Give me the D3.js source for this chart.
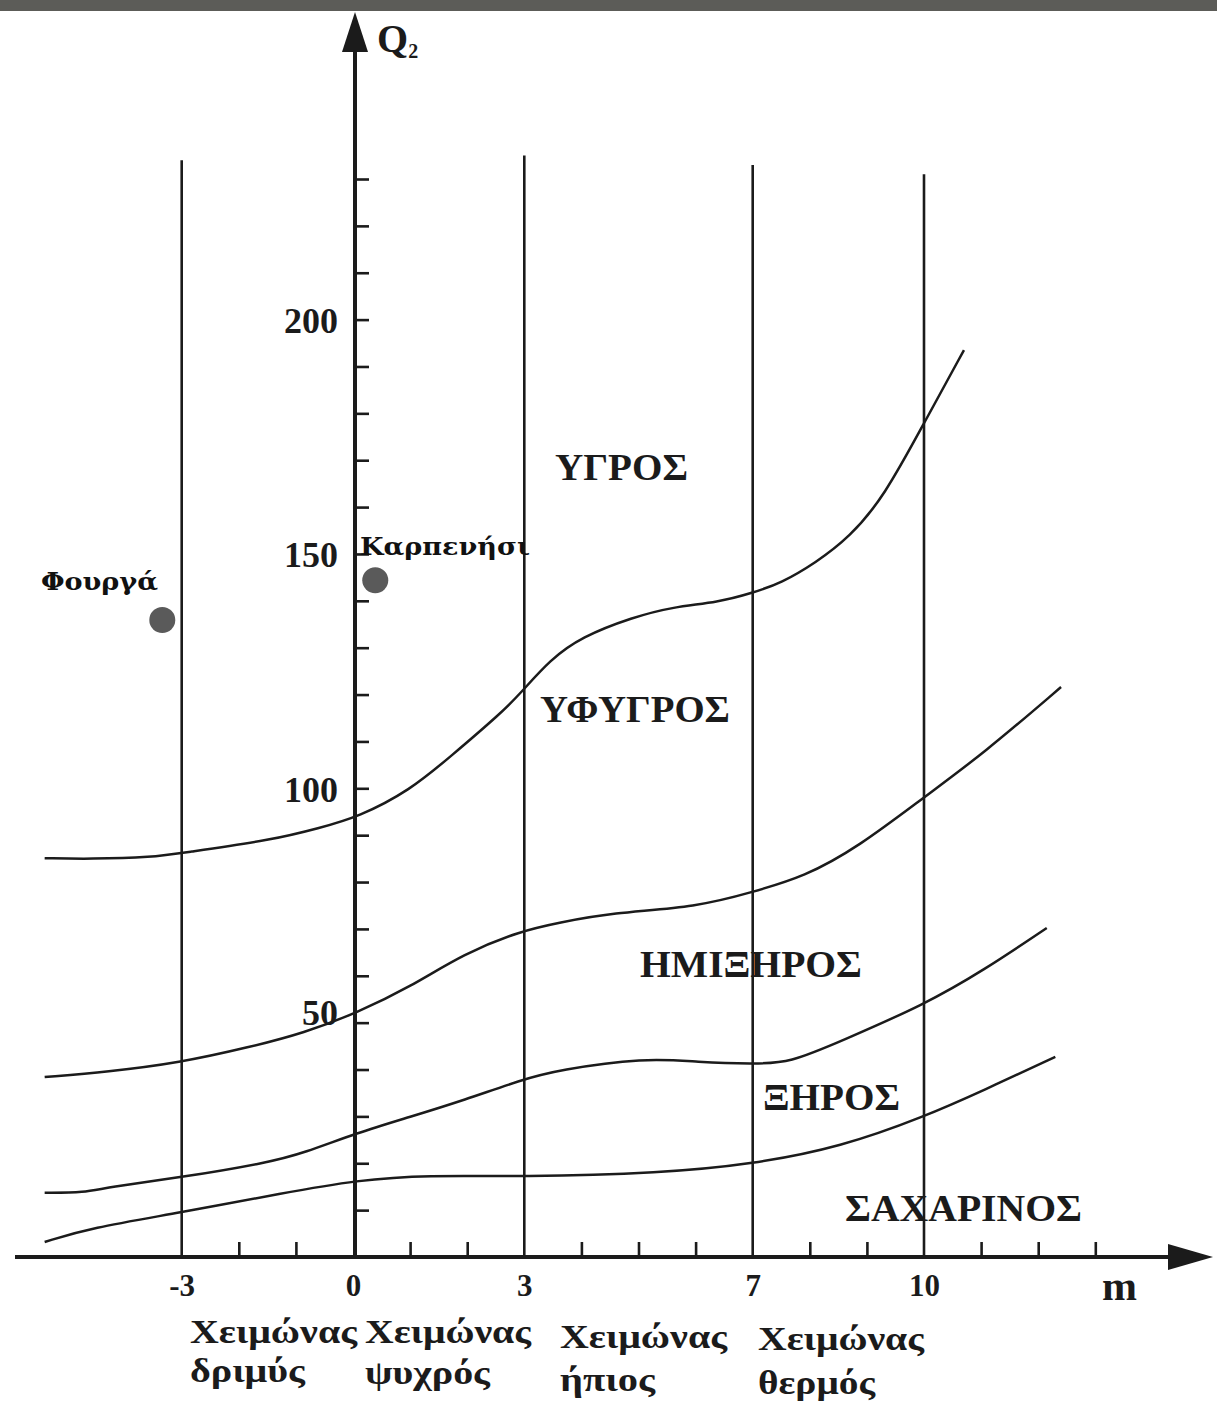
<!DOCTYPE html>
<html>
<head>
<meta charset="utf-8">
<script src="https://cdn.jsdelivr.net/npm/d3@7"></script>
<style>
  html, body { margin: 0; padding: 0; background: #fff; }
  svg { display: block; }
</style>
</head>
<body>
<svg id="chart" width="1217" height="1417"></svg>
<script>
// ---------- DATA (m in °C, Q2 values) ----------
const humidLimit = [[-5.4,85.1],[-4.6,84.9],[-3.5,85.3],[-3.0,86.2],[-1.4,89.0],[-0.6,91.5],[0.1,93.9],[1.0,99.6],[1.7,106.7],[2.6,116.1],[2.95,120.5],[3.45,127.4],[4.0,132.3],[4.9,136.5],[5.6,138.7],[6.4,139.7],[7.0,141.7],[7.5,143.8],[8.1,148.1],[8.7,153.6],[9.3,162.2],[10.0,177.9],[10.7,193.5]];
const subhumidLimit = [[-5.4,38.4],[-4.3,39.5],[-3.05,41.4],[-1.8,44.8],[-0.86,47.8],[0.07,52.1],[1.0,57.6],[1.95,64.8],[2.95,69.6],[3.6,71.3],[4.5,73.4],[6.05,74.7],[7.0,77.9],[7.9,81.1],[8.85,87.5],[10.0,98.1],[11.05,107.5],[12.4,121.6]];
const semiaridLimit = [[-5.4,13.7],[-4.7,13.7],[-4.3,14.9],[-3.05,16.9],[-1.5,20.1],[-0.86,22.2],[0.07,26.5],[1.0,29.9],[1.95,33.5],[2.95,37.8],[3.6,39.9],[5.1,42.5],[6.05,41.6],[7.0,41.2],[7.65,41.4],[8.55,46.1],[10.0,53.8],[11.05,61.2],[12.15,70.2]];
const aridLimit = [[-5.4,3.2],[-4.6,6.2],[-3.05,9.4],[-1.2,13.7],[0.07,16.4],[1.3,17.5],[2.95,17.1],[5.4,17.9],[7.0,19.8],[8.55,23.5],[10.0,29.9],[11.05,35.6],[12.3,42.7]];

const winterBounds = [-3, 3, 7, 10];            // vertical separators (m)
const winterBoundTops = [234, 235, 233, 231];    // Q2 where each separator starts
const xLabeledTicks = [-3, 0, 3, 7, 10];
const xMinorTicks = [-2, -1, 1, 2, 4, 5, 6, 8, 9, 11, 12, 13];
const yMinorTicks = d3.range(10, 240, 10);
const yLabeledTicks = [50, 100, 150, 200];

const stations = ["Φουργά", "Καρπενήσι"];
const stationM = [-3.34, 0.39];
const stationQ = [135.9, 144.4];

const zoneNames = ["ΥΓΡΟΣ", "ΥΦΥΓΡΟΣ", "ΗΜΙΞΗΡΟΣ", "ΞΗΡΟΣ", "ΣΑΧΑΡΙΝΟΣ"];
const winterLine1 = ["Χειμώνας", "Χειμώνας", "Χειμώνας", "Χειμώνας"];
const winterLine2 = ["δριμύς", "ψυχρός", "ήπιος", "θερμός"];

// ---------- LAYOUT ----------
const svg = d3.select("#chart");
const x = d3.scaleLinear().domain([0, 10]).range([353, 924]);
const y = d3.scaleLinear().domain([0, 230]).range([1257, 179]);
const ink = "#1b1b1b";
const serif = "'Liberation Serif','Times New Roman',serif";

// top dark band
svg.append("rect").attr("x", 0).attr("y", 0).attr("width", 1217).attr("height", 11).attr("fill", "#5c5c58");

// vertical winter separators
svg.append("g").selectAll("line").data(winterBounds).join("line")
  .attr("x1", d => x(d)).attr("x2", d => x(d))
  .attr("y1", (d, i) => y(winterBoundTops[i])).attr("y2", y(0))
  .attr("stroke", ink).attr("stroke-width", 2.6);

// curves
const line = d3.line().x(d => x(d[0])).y(d => y(d[1])).curve(d3.curveBasis);
svg.append("g").selectAll("path").data([humidLimit, subhumidLimit, semiaridLimit, aridLimit]).join("path")
  .attr("d", line).attr("fill", "none").attr("stroke", ink).attr("stroke-width", 2.5);

// X axis: minor ticks (pointing up)
const xMinor = svg.append("g").attr("transform", `translate(0,${y(0)})`)
  .call(d3.axisBottom(x).tickValues(xMinorTicks).tickSize(-15).tickFormat(""));
xMinor.select(".domain").remove();
xMinor.selectAll(".tick line").attr("stroke", ink).attr("stroke-width", 2.6);

// X axis labels (plain hyphen for negatives, as in the original)
const xLab = svg.append("g").attr("transform", `translate(0,${y(0)})`)
  .call(d3.axisBottom(x).tickValues(xLabeledTicks).tickSize(0).tickPadding(17).tickFormat(d => String(d)));
xLab.select(".domain").remove();
xLab.selectAll("text").attr("font-family", serif).attr("font-weight", "bold")
  .attr("font-size", 31).attr("fill", ink);

// Y axis minor ticks (pointing right)
const yMinor = svg.append("g").attr("transform", `translate(${x(0)},0)`)
  .call(d3.axisRight(y).tickValues(yMinorTicks).tickSize(16).tickFormat(""));
yMinor.select(".domain").remove();
yMinor.selectAll(".tick line").attr("stroke", ink).attr("stroke-width", 2.6);

// Y axis labels
const yLab = svg.append("g").attr("transform", `translate(${x(0)},0)`)
  .call(d3.axisLeft(y).tickValues(yLabeledTicks).tickSize(0).tickPadding(15).tickFormat(d3.format("d")));
yLab.select(".domain").remove();
yLab.selectAll("text").attr("font-family", serif).attr("font-weight", "bold")
  .attr("font-size", 36).attr("fill", ink).attr("dy", d => d === 50 ? "0.05em" : "0.36em");

// axis lines with arrowheads
const x0 = x(0), y0 = y(0);
svg.append("line").attr("x1", 15).attr("x2", 1175).attr("y1", y0).attr("y2", y0)
  .attr("stroke", ink).attr("stroke-width", 4);
svg.append("path").attr("d", `M1213,${y0} L1168,${y0 - 13} L1168,${y0 + 13} Z`).attr("fill", ink);
svg.append("line").attr("x1", x0 + 2).attr("x2", x0 + 2).attr("y1", y0).attr("y2", 48)
  .attr("stroke", ink).attr("stroke-width", 4);
svg.append("path").attr("d", `M${x0 + 2},12 L${x0 - 11},52 L${x0 + 15},52 Z`).attr("fill", ink);

// axis titles
const q = svg.append("text").attr("x", 377).attr("y", 52).attr("font-family", serif)
  .attr("font-weight", "bold").attr("font-size", 40).attr("fill", ink);
q.append("tspan").text("Q");
q.append("tspan").attr("font-size", 20).attr("dy", 6).text("2");
svg.append("text").attr("x", 1102).attr("y", 1300).attr("font-family", serif)
  .attr("font-weight", "bold").attr("font-size", 42).attr("fill", ink).text("m");

// zone labels
const zonePos = [[555, 480, 133], [540, 722, 190], [640, 977, 222], [763, 1110, 137], [845, 1221, 237]];
svg.append("g").selectAll("text").data(zoneNames).join("text")
  .attr("x", (d, i) => zonePos[i][0]).attr("y", (d, i) => zonePos[i][1])
  .attr("textLength", (d, i) => zonePos[i][2]).attr("lengthAdjust", "spacingAndGlyphs")
  .attr("font-family", serif).attr("font-weight", "bold").attr("font-size", 38).attr("fill", ink)
  .text(d => d);

// winter type labels
const winterPos = [[190, 1343, 1382, 167, 115], [365, 1343, 1384, 166, 125], [560, 1348, 1391, 167, 95], [758, 1350, 1394, 166, 117]];
const wg = svg.append("g").attr("font-family", serif).attr("font-weight", "bold")
  .attr("font-size", 34).attr("fill", ink);
wg.selectAll("text.l1").data(winterLine1).join("text").attr("class", "l1")
  .attr("x", (d, i) => winterPos[i][0]).attr("y", (d, i) => winterPos[i][1])
  .attr("textLength", (d, i) => winterPos[i][3]).attr("lengthAdjust", "spacingAndGlyphs").text(d => d);
wg.selectAll("text.l2").data(winterLine2).join("text").attr("class", "l2")
  .attr("x", (d, i) => winterPos[i][0]).attr("y", (d, i) => winterPos[i][2])
  .attr("textLength", (d, i) => winterPos[i][4]).attr("lengthAdjust", "spacingAndGlyphs").text(d => d);

// stations
svg.append("g").selectAll("circle").data(stations).join("circle")
  .attr("cx", (d, i) => x(stationM[i])).attr("cy", (d, i) => y(stationQ[i]))
  .attr("r", 13).attr("fill", "#5a5a5a");
const stLabelPos = [[41, 590, 117], [360, 555, 170]];
svg.append("g").selectAll("text").data(stations).join("text")
  .attr("x", (d, i) => stLabelPos[i][0]).attr("y", (d, i) => stLabelPos[i][1])
  .attr("textLength", (d, i) => stLabelPos[i][2]).attr("lengthAdjust", "spacingAndGlyphs")
  .attr("font-family", "'DejaVu Serif',serif").attr("font-size", 25).attr("font-weight", 600).attr("fill", "#111")
  .text(d => d);
</script>
</body>
</html>
